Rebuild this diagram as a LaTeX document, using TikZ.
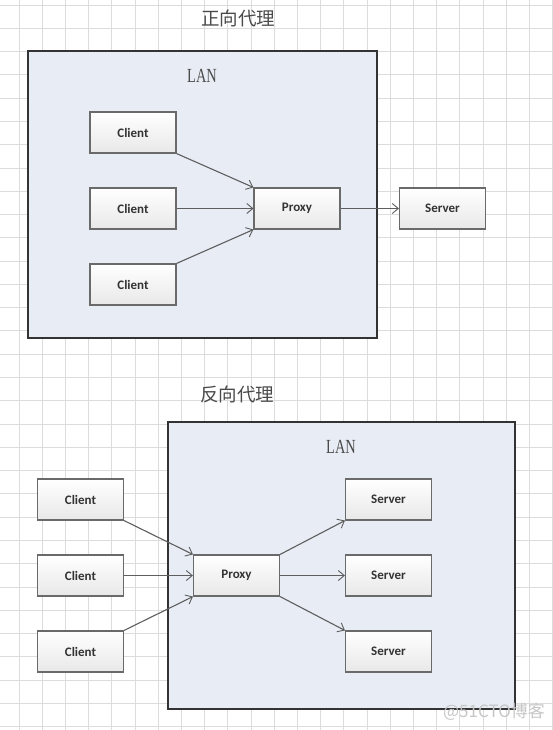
\documentclass[tikz,border=0pt]{standalone}
\usepackage{fontspec}
\setmainfont{Liberation Serif}
\newfontfamily\boxfont{Carlito}
\newfontfamily\cjk{Noto Sans CJK SC}
\usetikzlibrary{arrows.meta,shadows}
\definecolor{gridc}{HTML}{DCDCDC}
\definecolor{lanfill}{HTML}{E8EDF5}
\definecolor{lanline}{HTML}{333333}
\definecolor{boxline}{HTML}{6A6A6A}
\definecolor{arrc}{HTML}{5E5E5E}
\definecolor{txtc}{HTML}{333333}
\definecolor{titlec}{HTML}{4A4A4A}
\tikzset{
  lanbox/.style={draw=lanline, line width=1.4pt, fill=lanfill,
    drop shadow={shadow xshift=-1.2pt, shadow yshift=-1.2pt, opacity=0.35}},
  nodebox/.style={draw=boxline, line width=1.1pt, top color=white, bottom color=black!9,
    minimum width=86pt, minimum height=41pt, inner sep=0pt,
    font=\boxfont\bfseries\fontsize{13}{15}\selectfont, text=txtc,
    drop shadow={shadow xshift=0.8pt, shadow yshift=-0.8pt, opacity=0.25}},
  conn/.style={draw=arrc, line width=1.1pt, -{Straight Barb[length=6pt,width=10pt,line width=0.9pt]}},
  lantext/.style={font=\fontsize{20}{22}\selectfont, text=titlec},
  titletext/.style={font=\cjk\fontsize{18.5}{20}\selectfont, text=titlec},
}
\newcommand{\lanlabel}{\scalebox{0.72}[1]{LAN}}
\begin{document}
\begin{tikzpicture}[x=1pt,y=-1pt]
\useasboundingbox (0,0) rectangle (553,730);
\fill[white] (0,0) rectangle (553,730);
% grid
\foreach \i in {0,...,23} {
  \draw[gridc, line width=0.9pt] ({19+23.2*\i},0) -- ({19+23.2*\i},730);
}
\foreach \j in {0,...,31} {
  \draw[gridc, line width=0.9pt] (0,{5+23.28*\j}) -- (553,{5+23.28*\j});
}
% ===== forward proxy =====
\node[titletext] (t1) at (238,18) {正向代理};
\draw[lanbox] (28,51) rectangle (377,338);
\node[lantext] (lan1) at (202,76) {\lanlabel};
\node[nodebox] (fc1) at (133,132.5) {Client};
\node[nodebox] (fc2) at (133,208.5) {Client};
\node[nodebox] (fc3) at (133,284.5) {Client};
\node[nodebox] (fp) at (297,208.5) {Proxy};
\node[nodebox] (fs) at (442.5,208.5) {Server};
\draw[conn] (fc1.south east) -- (fp.north west);
\draw[conn] (fc2.east) -- (fp.west);
\draw[conn] (fc3.north east) -- (fp.south west);
\draw[conn] (fp.east) -- (fs.west);
% ===== reverse proxy =====
\node[titletext] (t2) at (237,394) {反向代理};
\draw[lanbox] (168,422) rectangle (515,709);
\node[lantext] (lan2) at (341,447) {\lanlabel};
\node[nodebox] (rc1) at (80.5,499.5) {Client};
\node[nodebox] (rc2) at (80.5,575.5) {Client};
\node[nodebox] (rc3) at (80.5,651.5) {Client};
\node[nodebox] (rp) at (236.5,575.5) {Proxy};
\node[nodebox] (rs1) at (388.5,499.5) {Server};
\node[nodebox] (rs2) at (388.5,575.5) {Server};
\node[nodebox] (rs3) at (388.5,651.5) {Server};
\draw[conn] (rc1.south east) -- (rp.north west);
\draw[conn] (rc2.east) -- (rp.west);
\draw[conn] (rc3.north east) -- (rp.south west);
\draw[conn] (rp.north east) -- (rs1.south west);
\draw[conn] (rp.east) -- (rs2.west);
\draw[conn] (rp.south east) -- (rs3.north west);
% watermark
\node[font=\cjk\fontsize{17}{18}\selectfont, text=black!22] (wm) at (494,712) {@51CTO博客};
\end{tikzpicture}
\end{document}
